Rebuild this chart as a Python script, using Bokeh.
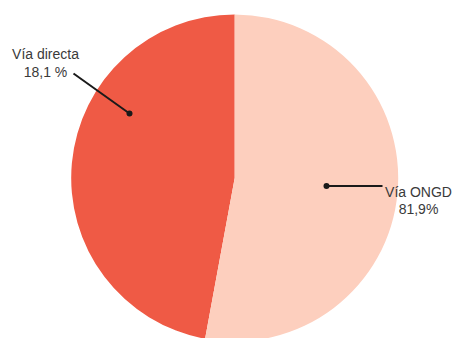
import math
from bokeh.plotting import figure
from bokeh.models import Range1d, ColumnDataSource
from bokeh.core.properties import value
from bokeh.embed import file_html
from bokeh.resources import INLINE

# ---- data ----
categories = ["Vía directa", "Vía ONGD"]
pct_labels = ["18,1 %", "81,9%"]
slice_shares = [47.1, 52.9]          # shares as drawn in the picture
colors = ["#EF5A45", "#FDCFBE"]

W, H = 455, 338
p = figure(width=W, height=H, output_backend="svg", toolbar_location=None,
           x_range=Range1d(0, W), y_range=Range1d(0, H),
           min_border=0, outline_line_color=None)
p.axis.visible = False
p.grid.visible = False
p.background_fill_color = "white"
p.border_fill_color = "white"

# pie geometry (page-pixel units, y up)
cx, cy, r = 234.2, 160.5, 163.5
total = sum(slice_shares)
starts, ends = [], []
a = math.pi / 2
for s in slice_shares:
    starts.append(a)
    a += 2 * math.pi * s / total
    ends.append(a)

src = ColumnDataSource(dict(x=[cx] * len(categories), y=[cy] * len(categories),
                            start=starts, end=ends, color=colors, cat=categories))
p.wedge(x="x", y="y", radius=r, start_angle="start", end_angle="end",
        fill_color="color", line_color=None, source=src)

# callouts
dot_x = [129, 326]
dot_y = [225, 152.5]
end_x = [73, 382]
end_y = [265, 152.5]
for i in range(2):
    p.line([dot_x[i], end_x[i]], [dot_y[i], end_y[i]], line_color="#1a1a1a", line_width=2)
p.scatter(dot_x, dot_y, size=6, fill_color="#1a1a1a", line_color=None)

# labels
lab_x = [45, 418]
lab_y1 = [285, 147]
lab_y2 = [267, 130]
for i in range(2):
    p.text([lab_x[i]], [lab_y1[i]], text=[categories[i]], text_align="center",
           text_baseline="alphabetic", text_font=value("Liberation Sans"),
           text_font_size="14px", text_color="#3a3a3a")
    p.text([lab_x[i]], [lab_y2[i]], text=[pct_labels[i]], text_align="center",
           text_baseline="alphabetic", text_font=value("Liberation Sans"),
           text_font_size="14px", text_color="#3a3a3a")

open("out.html", "w").write(file_html(p, INLINE))
